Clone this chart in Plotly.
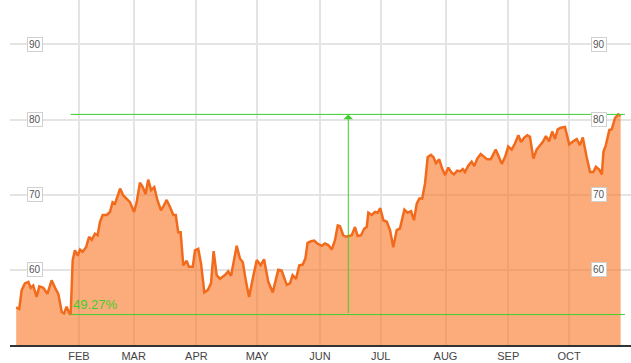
import plotly.graph_objects as go

# ---- data (day index from start of year, price) ----
days = [0, 1.5, 2.7, 4.3, 6.0, 7.2, 8.4, 10.1, 11.4, 13.4, 15.4, 17.5, 19.2, 20.8, 22.5, 23.6, 24.9, 26.1, 26.9,
        27.9, 29.0, 30.4, 31.5, 32.8, 34.5, 36.0, 37.3, 38.9, 40.2, 41.4, 42.7, 44.7, 46.3, 47.6, 48.8,
        51.3, 52.9, 54.6, 56.2, 58.2, 59.5, 61.1, 62.5, 63.9, 65.2, 66.6, 68.2, 69.7, 71.5, 72.6, 74.3,
        75.9, 77.6, 78.8, 80.0, 81.2, 82.5, 84.2, 85.3, 87.2, 88.3, 89.9, 91.3, 92.9, 94.6, 96.2, 97.5,
        99.0, 100.6, 103.1, 104.7, 106.1, 108.9, 110.5, 111.9, 113.5, 115.0, 116.8, 118.8, 120.7, 122.4,
        124.5, 126.7, 129.4, 131.1, 133.6, 135.2, 136.5, 138.2, 139.8, 141.5, 142.8, 143.9, 145.6, 147.1,
        148.7, 150.9, 152.5, 154.1, 155.8, 157.4, 158.8, 159.9, 161.5, 162.9, 164.3, 165.7, 167.3, 168.6,
        170.3, 171.9, 173.1, 173.9, 175.6, 177.2, 178.5, 179.8, 181.3, 183.0, 184.6, 186.2, 187.9, 189.5,
        191.7, 193.3, 195.0, 196.4, 197.8, 199.1, 200.5, 201.9, 203.2, 204.8, 206.0, 207.3, 208.9, 210.3,
        211.8, 213.4, 215.1, 216.2, 217.8, 219.2, 220.5, 221.6, 223.3, 224.9, 226.2, 227.7, 229.4, 231.0,
        232.6, 234.3, 235.5, 236.8, 238.4, 239.8, 241.4, 243.0, 244.7, 246.3, 248.0, 249.3, 250.9, 252.4,
        253.7, 255.4, 257.0, 258.7, 260.0, 261.6, 263.1, 264.7, 266.1, 267.4, 268.9, 271.0, 272.0, 273.1,
        275.1, 276.8, 278.4, 279.8, 281.7, 283.4, 285.0, 286.3, 288.0, 289.2, 290.0, 291.2, 292.9, 294.1,
        295.7, 297.3, 298.5]
prices = [55.0, 54.8, 57.3, 58.2, 58.4, 57.6, 57.9, 56.4, 57.8, 57.6, 56.8, 58.6, 57.6, 56.8, 54.4, 54.2, 55.1, 54.3, 54.05,
          61.3, 62.6, 61.9, 62.7, 62.4, 63.0, 64.4, 64.0, 64.8, 64.6, 66.4, 67.3, 67.3, 67.7, 69.0, 68.8,
          70.8, 69.9, 69.5, 69.0, 67.7, 69.0, 71.6, 71.0, 70.1, 72.0, 70.6, 71.0, 69.3, 67.9, 68.4, 69.3,
          68.4, 67.3, 67.3, 65.0, 65.0, 60.6, 61.2, 60.4, 60.4, 62.6, 62.8, 60.8, 57.0, 57.3, 58.2, 62.5,
          59.3, 58.8, 59.3, 59.8, 59.2, 63.2, 61.5, 61.0, 58.4, 56.4, 58.8, 61.3, 60.6, 61.4,
          58.4, 57.0, 60.0, 59.9, 58.0, 58.2, 59.3, 58.8, 60.6, 60.7, 61.5, 63.6, 63.8, 63.9,
          63.5, 63.2, 63.5, 63.3, 62.7, 63.9, 65.9, 65.8, 64.6, 64.4, 64.5, 64.6, 65.7, 64.5,
          64.6, 65.5, 65.7, 67.6, 67.3, 67.7, 67.6, 68.2, 66.6, 66.4, 65.3, 63.0, 65.3, 65.5,
          68.0, 67.6, 67.8, 66.6, 68.8, 69.5, 69.5, 71.5, 75.0, 75.3, 75.0, 74.2, 74.7, 73.5,
          72.6, 73.6, 72.9, 72.7, 73.2, 73.1, 73.4, 73.0, 73.9, 74.4, 73.8, 74.8, 75.4, 75.0,
          74.7, 74.7, 75.3, 76.0, 75.0, 74.1, 75.0, 76.4, 76.0, 76.8, 77.9, 77.0, 77.6, 77.9,
          77.7, 74.8, 76.0, 76.5, 77.0, 77.8, 77.1, 78.4, 77.4, 78.7, 78.9, 79.0, 77.8, 76.7,
          77.1, 77.4, 76.6, 77.6, 75.0, 73.0, 73.0, 73.7, 73.3, 72.7, 75.7, 76.6, 78.6, 78.7,
          80.2, 80.68, 80.5]

month_ticks = [31, 58, 89, 119, 150, 180, 212, 243, 273]
month_labels = ["FEB", "MAR", "APR", "MAY", "JUN", "JUL", "AUG", "SEP", "OCT"]
y_ticks = [60, 70, 80, 90]
gain_text = "49.27%"
measure_x_day = 164.0
measure_end_day = 300.6

LINE = "#F26A1B"
FILL = "rgba(250,117,33,0.6)"
GREEN = "#3ccf2e"

low = min(prices)
high = max(prices)
low_day = days[prices.index(low)]

fig = go.Figure()
fig.add_trace(go.Scatter(x=days, y=prices, mode="lines", fill="tozeroy",
                         fillcolor=FILL, line=dict(color=LINE, width=2.5),
                         hoverinfo="skip", showlegend=False))

# measurement lines
fig.add_trace(go.Scatter(x=[low_day, measure_end_day], y=[high, high], mode="lines",
                         line=dict(color=GREEN, width=1), showlegend=False, hoverinfo="skip"))
fig.add_trace(go.Scatter(x=[low_day, measure_end_day], y=[low, low], mode="lines",
                         line=dict(color=GREEN, width=1), showlegend=False, hoverinfo="skip"))

annotations = []
annotations.append(dict(x=measure_x_day, y=high, xref="x", yref="y",
                        ax=measure_x_day, ay=low, axref="x", ayref="y",
                        showarrow=True, arrowhead=1, arrowsize=1.6, arrowwidth=1,
                        arrowcolor=GREEN, text="", standoff=0))
annotations.append(dict(x=low_day, y=low, xref="x", yref="y", text=gain_text,
                        showarrow=False, xanchor="left", yanchor="bottom",
                        xshift=0, yshift=1,
                        font=dict(family="Arial", size=13, color=GREEN)))
for v in y_ticks:
    for px in (0.0395, 0.949):
        annotations.append(dict(x=px, y=v, xref="paper", yref="y", text=str(v),
                                showarrow=False, xanchor="center", yanchor="middle",
                                bgcolor="white", bordercolor="#d0d0d0", borderwidth=1,
                                borderpad=1,
                                font=dict(family="Arial", size=10, color="#555555")))

fig.update_layout(
    width=631, height=363,
    margin=dict(l=10, r=0, t=0, b=18),
    paper_bgcolor="white", plot_bgcolor="white",
    showlegend=False,
    annotations=annotations,
    xaxis=dict(range=[-3.06, 303.6], tickvals=month_ticks, ticktext=month_labels,
               showgrid=True, gridcolor="#e4e4e4", gridwidth=1.5,
               showline=True, linecolor="#333333", linewidth=1.5,
               ticks="", zeroline=False,
               tickfont=dict(family="Arial", size=11, color="#444444")),
    yaxis=dict(range=[50, 95.9], tickvals=y_ticks, showticklabels=False,
               showgrid=True, gridcolor="#e4e4e4", gridwidth=1.5,
               zeroline=False, showline=False, ticks=""),
)

fig.write_html("out.html",
               config={"displayModeBar": False},
               post_script="document.body.style.margin='0px';document.body.style.overflow='hidden';")
